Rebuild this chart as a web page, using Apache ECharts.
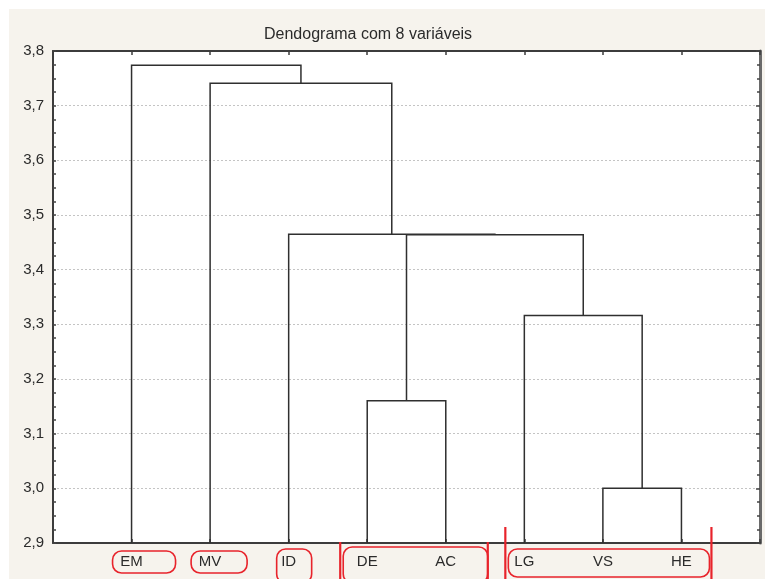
<!DOCTYPE html>
<html><head><meta charset="utf-8">
<script src="https://cdn.jsdelivr.net/npm/echarts@6/dist/echarts.min.js"></script>
<style>html,body{margin:0;padding:0;background:#fff}#c{width:765px;height:579px}</style>
</head><body><div id="c"></div>
<script>
// ---------- data ----------
const chartTitle = 'Dendograma com 8 variáveis';
const leaves = ['EM', 'MV', 'ID', 'DE', 'AC', 'LG', 'VS', 'HE'];
// merges: m0, m1, ... in order
const mergeLeft   = ['VS', 'DE', 'LG', 'm1', 'ID', 'MV', 'EM'];
const mergeRight  = ['HE', 'AC', 'm0', 'm2', 'm3', 'm4', 'm5'];
const mergeHeight = [3.0, 3.16, 3.316, 3.464, 3.465, 3.741, 3.774];
const yTickValues = [2.9, 3.0, 3.1, 3.2, 3.3, 3.4, 3.5, 3.6, 3.7, 3.8];
const yTickLabels = ['2,9', '3,0', '3,1', '3,2', '3,3', '3,4', '3,5', '3,6', '3,7', '3,8'];
// highlighted groups (red annotations)
const groupFirst = ['EM', 'MV', 'ID', 'DE', 'LG'];
const groupLast  = ['EM', 'MV', 'ID', 'AC', 'HE'];
const groupBracketed = [false, false, false, true, true];

// ---------- build tree ----------
const yMin = 2.9, yMax = 3.8;
const nodes = {};
leaves.forEach((n, i) => { nodes[n] = { x: i + 1, y: yMin }; });
mergeLeft.forEach((l, k) => {
  const a = nodes[l], b = nodes[mergeRight[k]];
  nodes['m' + k] = { x: (a.x + b.x) / 2, y: mergeHeight[k] };
});
const linkData = mergeLeft.map((l, k) => {
  const a = nodes[l], b = nodes[mergeRight[k]];
  return [a.x, a.y, b.x, b.y, mergeHeight[k]];
});
const groupData = groupFirst.map((f, i) => [leaves.indexOf(f) + 1, leaves.indexOf(groupLast[i]) + 1, groupBracketed[i] ? 1 : 0]);

// annotation box style (pixels, relative to leaf positions / axis)
const boxStyle = [
  { l: 19, r: 44, t: 8, b: 30 },
  { l: 19, r: 37, t: 8, b: 30 },
  { l: 12, r: 23, t: 6, b: 40 },
  { l: 24, r: 42, t: 4, b: 40 },
  { l: 16, r: 28, t: 6, b: 34 }
];
const bracketStyle = [null, null, null, { l: 27, r: 42, t: -1 }, { l: 19, r: 30, t: -16 }];
const RED = '#e8232b';

const chart = echarts.init(document.getElementById('c'), null, { renderer: 'canvas' });
const font = "'Liberation Sans', Arial, sans-serif";

const option = {
  backgroundColor: '#f6f3ed',
  animation: false,
  title: {
    text: chartTitle, left: 259, top: 22,
    textStyle: { fontSize: 16, fontWeight: 'normal', color: '#2b2b2b', fontFamily: font }
  },
  graphic: [
    { type: 'rect', left: 0, top: 0, shape: { width: 765, height: 9 }, style: { fill: '#fff' } },
    { type: 'rect', left: 0, top: 0, shape: { width: 9, height: 579 }, style: { fill: '#fff' } }
  ],
  grid: { left: 53, right: 5, top: 51, bottom: 36, show: true, backgroundColor: '#fff', borderWidth: 0 },
  xAxis: [
    {
      type: 'value', min: 0, max: 9, interval: 1, position: 'bottom',
      axisLine: { show: true, onZero: false, lineStyle: { color: '#3c3c3c', width: 2 } },
      axisTick: { show: true, inside: true, length: 4, lineStyle: { color: '#3c3c3c', width: 1.5 } },
      axisLabel: {
        color: '#2b2b2b', fontSize: 15, fontFamily: font, margin: 11,
        formatter: v => leaves[v - 1] || ''
      },
      splitLine: { show: false }
    },
    {
      type: 'value', min: 0, max: 9, interval: 1, position: 'top',
      axisLine: { show: true, onZero: false, lineStyle: { color: '#3c3c3c', width: 2 } },
      axisTick: { show: true, inside: true, length: 4, lineStyle: { color: '#3c3c3c', width: 1.5 } },
      axisLabel: { show: false },
      splitLine: { show: false }
    }
  ],
  yAxis: [
    {
      type: 'value', min: yMin, max: yMax, interval: 0.1, position: 'left',
      axisLine: { show: true, onZero: false, lineStyle: { color: '#3c3c3c', width: 2 } },
      axisTick: { show: true, inside: true, length: 3, lineStyle: { color: '#444', width: 1.5 } },
      minorTick: { show: true, splitNumber: 4, length: 3, lineStyle: { color: '#444', width: 1.5 } },
      axisLabel: {
        color: '#2b2b2b', fontSize: 15, fontFamily: font, margin: 9,
        formatter: v => {
          const i = yTickValues.findIndex(t => Math.abs(t - v) < 1e-6);
          return i >= 0 ? yTickLabels[i] : '';
        }
      },
      splitLine: { show: true, lineStyle: { color: '#c4c4c4', type: [2, 2], width: 1 } }
    },
    {
      type: 'value', min: yMin, max: yMax, interval: 0.1, position: 'right',
      axisLine: { show: true, onZero: false, lineStyle: { color: '#6a6a6a', width: 3 } },
      axisTick: { show: true, inside: true, length: 4, lineStyle: { color: '#444', width: 1.5 } },
      minorTick: { show: true, splitNumber: 4, length: 3, lineStyle: { color: '#444', width: 1.5 } },
      axisLabel: { show: false },
      splitLine: { show: false }
    }
  ],
  series: [
    {
      type: 'custom', xAxisIndex: 0, yAxisIndex: 0, clip: false, z: 3,
      data: linkData,
      renderItem: (params, api) => {
        const p1 = api.coord([api.value(0), api.value(1)]);
        const p2 = api.coord([api.value(0), api.value(4)]);
        const p3 = api.coord([api.value(2), api.value(4)]);
        const p4 = api.coord([api.value(2), api.value(3)]);
        return {
          type: 'polyline',
          shape: { points: [p1, p2, p3, p4] },
          style: { stroke: '#2f2f2f', lineWidth: 1.5, fill: null }
        };
      }
    },
    {
      type: 'custom', xAxisIndex: 0, yAxisIndex: 0, clip: false, z: 5,
      data: groupData,
      renderItem: (params, api) => {
        const i = params.dataIndex;
        const s = boxStyle[i];
        const a = api.coord([api.value(0), yMin]);
        const b = api.coord([api.value(1), yMin]);
        const x0 = a[0] - s.l, x1 = b[0] + s.r;
        const y0 = a[1] + s.t, y1 = a[1] + s.b;
        const children = [{
          type: 'rect',
          shape: { x: x0, y: y0, width: x1 - x0, height: y1 - y0, r: 9 },
          style: { fill: null, stroke: RED, lineWidth: 1.6 }
        }];
        if (api.value(2)) {
          const br = bracketStyle[i];
          [a[0] - br.l, b[0] + br.r].forEach(x => {
            children.push({
              type: 'line',
              shape: { x1: x, y1: a[1] + br.t, x2: x, y2: 585 },
              style: { stroke: RED, lineWidth: 2.2 }
            });
          });
        }
        return { type: 'group', children };
      }
    }
  ]
};
chart.setOption(option);
</script>
</body></html>
